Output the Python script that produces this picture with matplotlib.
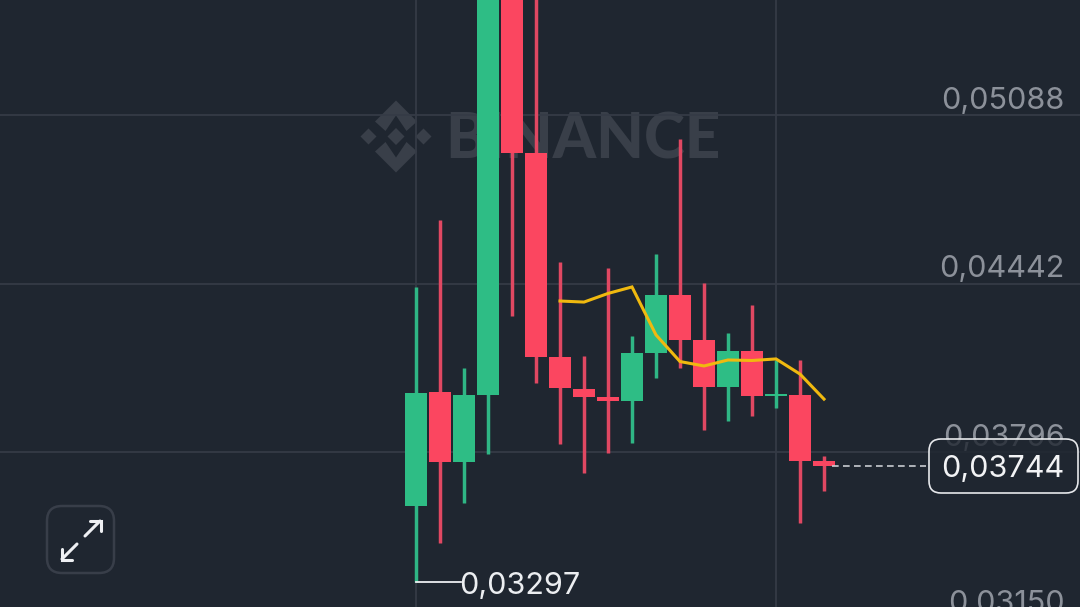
import matplotlib
matplotlib.use("Agg")
import matplotlib.pyplot as plt
from matplotlib.patches import FancyBboxPatch, Polygon

# ---- data (prices) ----
opens = [0.03591, 0.04026, 0.03758, 0.04016, 0.05600, 0.04942, 0.04160, 0.04039, 0.04007,
         0.03990, 0.04177, 0.04398, 0.04225, 0.04045, 0.04183, 0.04009, 0.04016, 0.03763]
closes = [0.04024, 0.03758, 0.04016, 0.05600, 0.04942, 0.04160, 0.04041, 0.04007, 0.03990,
          0.04176, 0.04398, 0.04227, 0.04045, 0.04183, 0.04009, 0.04018, 0.03763, 0.03744]
highs = [0.04429, 0.04687, 0.04118, 0.05900, 0.05900, 0.05700, 0.04524, 0.04164, 0.04501,
         0.04241, 0.04555, 0.04996, 0.04444, 0.04252, 0.04360, 0.04149, 0.04147, 0.03781]
lows = [0.03297, 0.03447, 0.03600, 0.03790, 0.04317, 0.04060, 0.03827, 0.03715, 0.03792,
        0.03832, 0.04080, 0.04120, 0.03882, 0.03915, 0.03934, 0.03965, 0.03524, 0.03646]
ma_start = 6
ma_values = [0.04375, 0.04371, 0.04404, 0.04429, 0.04245, 0.04143,
             0.04126, 0.04149, 0.04147, 0.04153, 0.04095, 0.03999]
price_ticks = [0.05088, 0.04442, 0.03796, 0.03150]
price_labels = ["0,05088", "0,04442", "0,03796", "0,03150"]
grid_candles = [0, 15]
last_price = 0.03744
last_label = "0,03744"
low_price = 0.03297
low_label = "0,03297"

# ---- style ----
BG = "#1f2630"
GREEN = "#2ebd85"
RED = "#fb4660"
RED_W = "#e04862"
GREEN_W = "#2fb685"
GRID = "#353b46"
GOLD = "#f0b90f"
WM = "#393f49"
FONT = "Inter"
FS = 22
label_shift = [-14, -14, -14, -16.5]

fig = plt.figure(figsize=(10.8, 6.07), dpi=100, facecolor=BG)


def pixel_axes(z):
    a = fig.add_axes([0, 0, 1, 1], zorder=z)
    a.set_xlim(0, 1080)
    a.set_ylim(607, 0)
    a.axis("off")
    return a


# watermark layer
bg = pixel_axes(0)
cx, cy = 396, 136.5
wm_shapes = [
    [(0, -36), (21, -15), (10.5, -5.5), (0, -21), (-10.5, -5.5), (-21, -15)],
    [(0, 36), (21, 15), (10.5, 5.5), (0, 21), (-10.5, 5.5), (-21, 15)],
    [(0, -8.5), (8.5, 0), (0, 8.5), (-8.5, 0)],
    [(-27.5, -8), (-19.5, 0), (-27.5, 8), (-35.5, 0)],
    [(27.5, -8), (35.5, 0), (27.5, 8), (19.5, 0)],
]
for s in wm_shapes:
    bg.add_patch(Polygon([(cx + x, cy + y) for x, y in s], closed=True, fc=WM, ec="none"))
bg.text(582.5, 140, "BINANCE", color=WM, fontsize=44.5, fontweight="black", family="Lato",
        ha="center", va="center")

# chart layer
ax = fig.add_axes([0, 0, 1, 1], zorder=1)
ax.patch.set_alpha(0)
ax.set_xlim(-416 / 24, (1080 - 416) / 24)
ax.set_ylim(0.03202, 0.05529)
ax.axis("off")
for p in price_ticks:
    ax.axhline(p, color=GRID, lw=1.3, zorder=1)
for c in grid_candles:
    ax.axvline(c, color=GRID, lw=1.3, zorder=1)
for i, (o, c, h, l) in enumerate(zip(opens, closes, highs, lows)):
    up = c >= o
    ax.vlines(i, l, h, color=GREEN_W if up else RED_W, lw=2.5, zorder=2)
    ax.bar(i, abs(c - o), bottom=min(o, c), width=0.89, color=GREEN if up else RED, zorder=3)
ax.plot(range(ma_start, ma_start + len(ma_values)), ma_values, color=GOLD, lw=2.2,
        solid_joinstyle="miter", zorder=4)
ax.plot([len(opens) - 1 + 0.33, 21.25], [last_price - 0.00001] * 2, color="#c9ccd2", lw=1.2,
        dashes=(4, 2.6), zorder=4)
ax.plot([0, 1.88], [low_price, low_price], color="#eceef1", lw=1.3, zorder=4)
ax.text(1.8, low_price - 0.00016, low_label, color="#eceef1", fontsize=FS, family=FONT,
        ha="left", va="center", zorder=5)

# labels layer
fg = pixel_axes(2)
for p, lab, dy in zip(price_ticks, price_labels, label_shift):
    y = 115 + (0.05088 - p) / 3.834e-5 + dy
    fg.text(1064.5, y, lab, color="#8c919a", fontsize=FS, family=FONT, ha="right", va="center", zorder=1)
fg.add_patch(FancyBboxPatch((937, 447), 133, 38, boxstyle="round,pad=8,rounding_size=12",
                            fc=(31 / 255, 38 / 255, 48 / 255, 0.8), ec="none", zorder=2))
fg.add_patch(FancyBboxPatch((937, 447), 133, 38, boxstyle="round,pad=8,rounding_size=12",
                            fc="none", ec="#e6e8eb", lw=1.2, zorder=3))
fg.text(1064.5, 468.5, last_label, color="#f2f3f5", fontsize=FS, family=FONT, ha="right", va="center", zorder=4)

# expand button
fg.add_patch(FancyBboxPatch((59, 518), 43, 43, boxstyle="round,pad=12,rounding_size=15",
                            fc="none", ec="#383e49", lw=1.8))
ic = "#eef0f3"
fg.plot([85, 100], [536, 521], color=ic, lw=2.2, solid_capstyle="round")
fg.plot([90, 100.5, 100.5], [520.5, 520.5, 531], color=ic, lw=2.2, solid_capstyle="round", solid_joinstyle="miter")
fg.plot([77, 62], [544, 559], color=ic, lw=2.2, solid_capstyle="round")
fg.plot([61.5, 61.5, 72], [549, 559.5, 559.5], color=ic, lw=2.2, solid_capstyle="round", solid_joinstyle="miter")

fig.savefig("out.png", dpi=100, facecolor=BG)
